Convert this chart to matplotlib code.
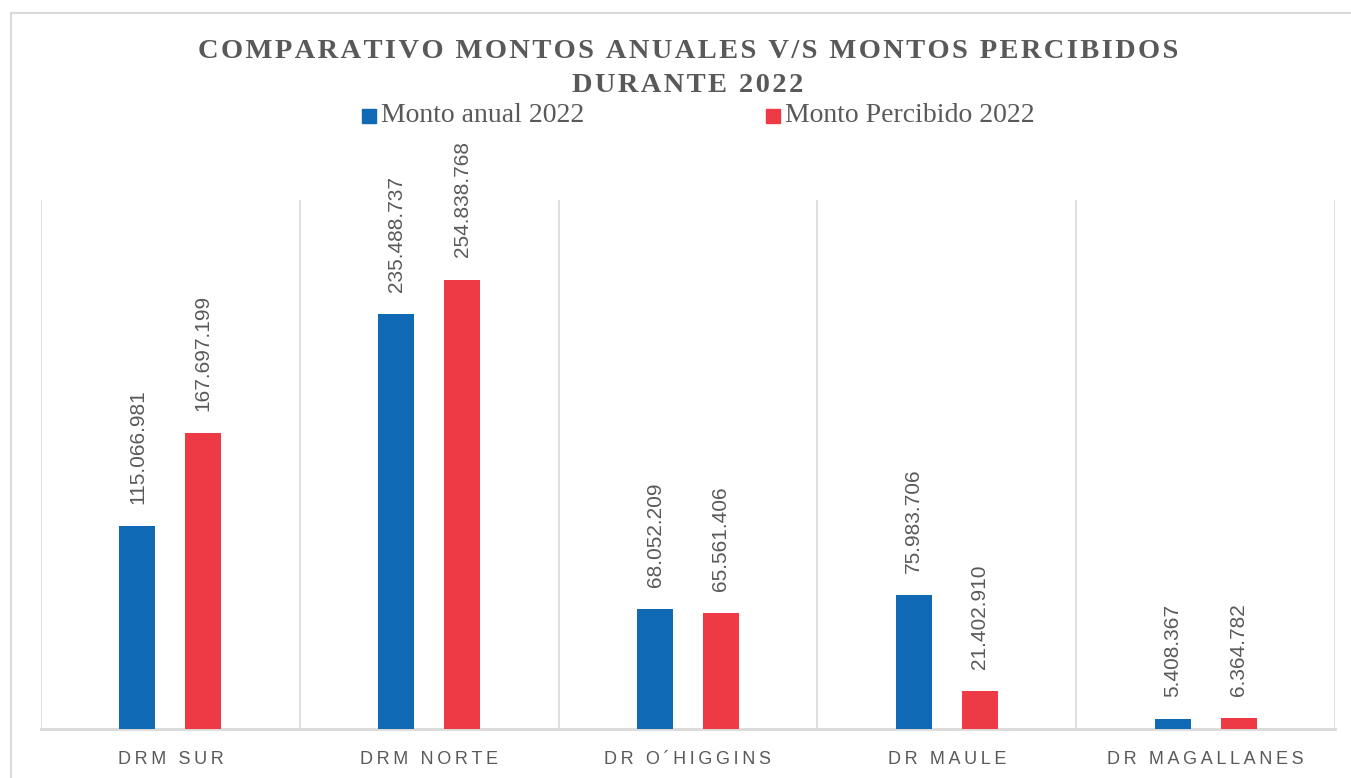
import matplotlib.pyplot as plt
from matplotlib.patches import Rectangle

# datos
regiones = ["DRM SUR", "DRM NORTE", "DR O´HIGGINS", "DR MAULE", "DR MAGALLANES"]
monto_anual = [115066981, 235488737, 68052209, 75983706, 5408367]
monto_percibido = [167697199, 254838768, 65561406, 21402910, 6364782]
series = ["Monto anual 2022", "Monto Percibido 2022"]

AZUL = "#0F69B4"
ROJO = "#EE3A44"
GRIS_TXT = "#595959"
GRIS_LIN = "#D9D9D9"


def espaciar(texto, sep="\u2009"):
    # imita el espaciado entre letras de Excel
    return sep.join(texto)


def formato_miles(v):
    return f"{v:,}".replace(",", ".")


fig = plt.figure(figsize=(13.51, 7.78), dpi=100)
ax = fig.add_axes([41 / 1351, 1 - 729 / 778, (1335 - 41) / 1351, (729 - 200) / 778])

# marco del area del grafico
fig.patches.append(Rectangle((11 / 1351, -0.1), 1.2, 1 - 13 / 778 + 0.1,
                             transform=fig.transFigure, fill=False,
                             edgecolor=GRIS_LIN, linewidth=1.5))

x = list(range(len(regiones)))
ancho = 0.139
desp = 0.1274
b1 = ax.bar([i - desp for i in x], monto_anual, ancho, color=AZUL, zorder=3)
b2 = ax.bar([i + desp for i in x], monto_percibido, ancho, color=ROJO, zorder=3)

for barras, valores in ((b1, monto_anual), (b2, monto_percibido)):
    for rect, v in zip(barras, valores):
        ax.annotate(formato_miles(v), (rect.get_x() + rect.get_width() / 2, rect.get_height()),
                    xytext=(0, 16), textcoords="offset points", rotation=90,
                    ha="center", va="bottom", fontsize=15, color=GRIS_TXT,
                    family=["Liberation Sans", "DejaVu Sans"])

ax.set_xlim(-0.5, len(regiones) - 0.5)
ax.set_ylim(0, 300e6)
for b in [i - 0.5 for i in range(len(regiones) + 1)]:
    ax.axvline(b, color=GRIS_LIN, linewidth=1.2, zorder=1)

for s in ("top", "right", "left"):
    ax.spines[s].set_visible(False)
ax.spines["bottom"].set_color(GRIS_LIN)
ax.spines["bottom"].set_linewidth(2)
ax.set_yticks([])
ax.set_xticks(x)
ax.set_xticklabels([espaciar(r) for r in regiones], fontsize=13, color=GRIS_TXT,
                   family=["Liberation Sans", "DejaVu Sans"])
ax.tick_params(axis="x", length=0, pad=16)

cx = (41 + 1335) / 2 / 1351
hair = "\u200a"
titulo1 = (hair + " " + hair).join(espaciar(p, hair) for p in "COMPARATIVO MONTOS ANUALES V/S MONTOS PERCIBIDOS".split())
titulo2 = (hair + " " + hair).join(espaciar(p, hair) for p in "DURANTE 2022".split())
fig.text(cx, 1 - 51 / 778, titulo1, ha="center", va="center", fontsize=20.5, fontweight="bold",
         color=GRIS_TXT, family=["Liberation Serif", "DejaVu Serif"])
fig.text(cx, 1 - 85 / 778, titulo2, ha="center", va="center", fontsize=20.5, fontweight="bold",
         color=GRIS_TXT, family=["Liberation Serif", "DejaVu Serif"])

# leyenda
for xs, color, nombre in ((362, AZUL, series[0]), (766, ROJO, series[1])):
    fig.patches.append(Rectangle((xs / 1351, 1 - 123 / 778), 14 / 1351, 14 / 778,
                                 transform=fig.transFigure, color=color))
    fig.text((xs + 19) / 1351, 1 - 116 / 778, nombre, ha="left", va="center", fontsize=20,
             color=GRIS_TXT, family=["Liberation Serif", "DejaVu Serif"])

fig.savefig("out.png", dpi=100)
